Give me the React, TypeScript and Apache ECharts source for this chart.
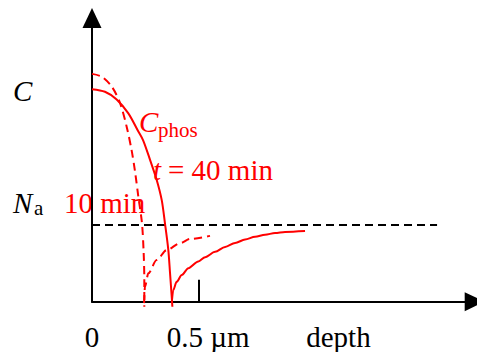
import React, { useEffect, useRef } from "react";
import * as echarts from "echarts";

// depth in µm, level in arbitrary (log-concentration-like) units
const fall40Depth = [0, 0.061, 0.116, 0.171, 0.218, 0.241, 0.273, 0.304, 0.328, 0.343, 0.359, 0.367, 0.375, 0.378];
const fall40Level = [7.49, 7.4, 7.13, 6.64, 6.0, 5.68, 5.0, 4.3, 3.58, 2.77, 1.82, 1.01, 0.17, -0.18];

const fall10Depth = [0, 0.046, 0.093, 0.132, 0.163, 0.186, 0.202, 0.218, 0.235, 0.243, 0.246, 0.246];
const fall10Level = [8.03, 7.93, 7.58, 7.0, 6.17, 5.35, 4.61, 3.7, 2.77, 1.72, 0.76, -0.18];

const rise10Depth = [0.245, 0.249, 0.265, 0.304, 0.351, 0.414, 0.461, 0.555];
const rise10Level = [-0.05, 0.53, 1.0, 1.47, 1.82, 2.06, 2.21, 2.32];

const rise40Depth = [0.375, 0.382, 0.398, 0.422, 0.453, 0.5, 0.532, 0.579, 0.626, 0.673, 0.72, 0.767, 0.814, 0.861, 0.908, 1.002];
const rise40Level = [-0.05, 0.41, 0.7, 0.94, 1.18, 1.42, 1.57, 1.76, 1.93, 2.07, 2.19, 2.29, 2.36, 2.42, 2.46, 2.49];

const naDepth = [0, 1.623];
const naLevel = [2.7, 2.7];

const tickValues = [0.5];
const labelValues = [0, 0.546, 1.159];
const labelTexts = ["0", "0.5 µm", "depth"];

const FONT = "'Times New Roman', 'Liberation Serif', serif";
const RED = "#ff0000";

const zip = (xs: number[], ys: number[]) => xs.map((x, i) => [x, ys[i]]);

export default function App() {
  const ref = useRef<HTMLDivElement>(null);
  useEffect(() => {
    if (!ref.current) return;
    const chart = echarts.init(ref.current, undefined, { renderer: "svg" });
    const txt = (
      text: string,
      x: number,
      y: number,
      size: number,
      color: string,
      italic = false
    ) => ({
      type: "text",
      x,
      y,
      silent: true,
      style: {
        text,
        fill: color,
        fontSize: size,
        fontFamily: FONT,
        fontStyle: italic ? "italic" : "normal",
        align: "left",
        verticalAlign: "middle",
      },
    });
    const redLine = (data: number[][], dashed: boolean, mono: boolean) => ({
      type: "line",
      data,
      symbol: "none",
      showSymbol: false,
      smooth: 0.3,
      smoothMonotone: mono ? "x" : undefined,
      clip: false,
      silent: true,
      lineStyle: { color: RED, width: 2, type: dashed ? [8, 5] : "solid" },
    });
    chart.setOption({
      animation: false,
      backgroundColor: "#ffffff",
      grid: { left: 92, right: 2.3, top: 18, bottom: 50.3, containLabel: false },
      xAxis: {
        type: "value",
        min: 0,
        max: 1.8,
        axisLine: {
          show: true,
          symbol: ["none", "triangle"],
          symbolSize: [19, 20],
          lineStyle: { color: "#000", width: 2 },
        },
        axisTick: {
          show: true,
          customValues: tickValues,
          inside: true,
          length: 22,
          lineStyle: { color: "#000", width: 2 },
        },
        axisLabel: {
          customValues: labelValues,
          formatter: (v: number) => {
            const i = labelValues.findIndex((l) => Math.abs(l - v) < 1e-6);
            return i >= 0 ? labelTexts[i] : "";
          },
          fontSize: 29,
          fontFamily: FONT,
          color: "#000",
          margin: 21,
        },
        splitLine: { show: false },
      },
      yAxis: {
        type: "value",
        min: 0,
        max: 10,
        axisLine: {
          show: true,
          onZero: false,
          symbol: ["none", "triangle"],
          symbolSize: [19, 20],
          lineStyle: { color: "#000", width: 2 },
        },
        axisTick: { show: false },
        axisLabel: { show: false },
        splitLine: { show: false },
      },
      series: [
        {
          type: "line",
          data: zip(naDepth, naLevel),
          symbol: "none",
          showSymbol: false,
          silent: true,
          lineStyle: { color: "#000", width: 2, type: [8, 5] },
        },
        redLine(zip(fall40Depth, fall40Level), false, false),
        redLine(zip(rise40Depth, rise40Level), false, true),
        redLine(zip(fall10Depth, fall10Level), true, false),
        redLine(zip(rise10Depth, rise10Level), true, true),
      ],
      graphic: [
        txt("C", 13, 91.2, 29, "#000", true),
        txt("N", 13, 203, 29, "#000", true),
        txt("a", 34, 207.9, 21, "#000"),
        txt("C", 139, 122.2, 29, RED, true),
        txt("phos", 158, 129.9, 21, RED),
        txt("t", 153, 170.2, 29, RED, true),
        txt("= 40 min", 168, 170.2, 29, RED),
        txt("10 min", 64, 203.2, 29, RED),
      ],
    });
    return () => chart.dispose();
  }, []);
  return (
    <div
      ref={ref}
      style={{ position: "absolute", left: 0, top: 0, width: 477, height: 352 }}
    />
  );
}
